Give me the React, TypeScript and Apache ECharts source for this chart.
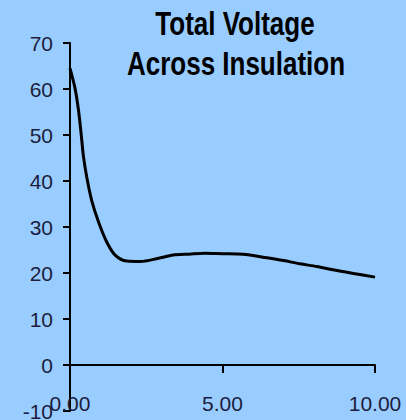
import React, { useEffect, useRef } from "react";
import * as echarts from "echarts";

const titleLines = ["Total Voltage", "Across Insulation"];
const timeValues = [0, 0.16, 0.27, 0.36, 0.44, 0.55, 0.71, 0.93, 1.2, 1.48, 1.86, 2.3, 2.9, 3.38, 3.9, 4.43, 5.0, 5.67, 6.46, 7.0, 7.54, 8.1, 8.62, 9.3, 10];
const voltageValues = [64.5, 60.3, 55.8, 50.6, 45.4, 40.8, 35.8, 31.2, 26.8, 23.9, 22.6, 22.5, 23.2, 23.9, 24.1, 24.3, 24.2, 24.1, 23.3, 22.7, 22.0, 21.4, 20.7, 19.9, 19.1];
const yTicks = { min: -10, max: 70, interval: 10 };
const xTicks = { min: 0, max: 10, interval: 5 };

const labelFont = "'Liberation Sans', Arial, sans-serif";

export default function App() {
  const ref = useRef<HTMLDivElement>(null);
  useEffect(() => {
    document.body.style.margin = "0";
    const chart = echarts.init(ref.current!, null, { renderer: "svg" });
    const titleStyle = (text: string) => ({
      text,
      fontFamily: labelFont,
      fontWeight: "bold",
      fontSize: 26,
      fill: "#000",
      textAlign: "center",
      textVerticalAlign: "middle",
    });
    chart.setOption({
      animation: false,
      backgroundColor: "#99CCFF",
      graphic: [
        { type: "text", x: 235, y: 23, scaleY: 1.3, style: titleStyle(titleLines[0]) },
        { type: "text", x: 236, y: 63, scaleY: 1.3, style: titleStyle(titleLines[1]) },
      ],
      grid: { left: 70, right: 31, top: 43, bottom: 9, containLabel: false, outerBoundsMode: "none" },
      xAxis: {
        type: "value",
        min: xTicks.min,
        max: xTicks.max,
        interval: xTicks.interval,
        axisLine: { onZero: true, lineStyle: { color: "#000", width: 2 } },
        axisTick: { show: true, length: 8, lineStyle: { color: "#000", width: 2 } },
        splitLine: { show: false },
        axisLabel: {
          formatter: (v: number) => v.toFixed(2),
          fontFamily: labelFont,
          fontSize: 21,
          color: "#1c1c3c",
          margin: -18,
        },
      },
      yAxis: {
        type: "value",
        min: yTicks.min,
        max: yTicks.max,
        interval: yTicks.interval,
        axisLine: { show: true, onZero: false, lineStyle: { color: "#000", width: 2 } },
        axisTick: { show: true, length: 7, lineStyle: { color: "#000", width: 2 } },
        splitLine: { show: false },
        axisLabel: {
          fontFamily: labelFont,
          fontSize: 21,
          color: "#1c1c3c",
          margin: 17,
        },
      },
      series: [
        {
          type: "line",
          data: timeValues.map((t, i) => [t, voltageValues[i]]),
          smooth: 0.3,
          showSymbol: false,
          lineStyle: { color: "#000", width: 3 },
        },
      ],
    });
    return () => chart.dispose();
  }, []);
  return (
    <div
      ref={ref}
      style={{ position: "fixed", left: 0, top: 0, width: 406, height: 420 }}
    />
  );
}
